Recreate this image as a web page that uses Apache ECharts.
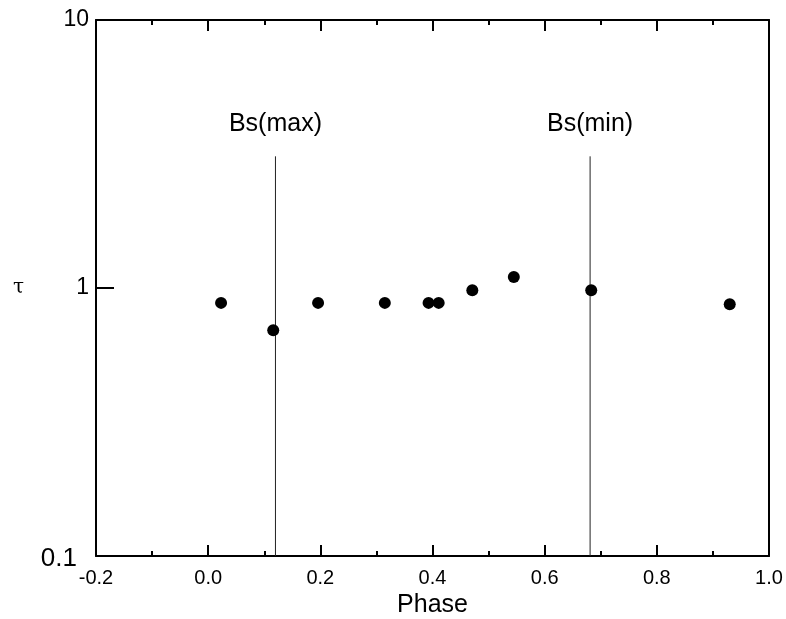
<!DOCTYPE html>
<html>
<head>
<meta charset="utf-8">
<script src="https://cdn.jsdelivr.net/npm/echarts@6/dist/echarts.min.js"></script>
<style>html,body{margin:0;padding:0;background:#fff;}#c{width:786px;height:619px;}</style>
</head>
<body>
<div id="c"></div>
<script>
const phase = [0.023, 0.116, 0.196, 0.315, 0.393, 0.411, 0.471, 0.545, 0.683, 0.930];
const tau   = [0.88, 0.695, 0.88, 0.88, 0.88, 0.88, 0.98, 1.10, 0.98, 0.87];
const markerNames = ['Bs(max)', 'Bs(min)'];
const markerPhase = [0.12, 0.681];
const markerLineBottom = 0.1;
const markerLineTop = 3.1;
const markerLabelTau = 4.1;
const xTicks = [-0.2, 0.0, 0.2, 0.4, 0.6, 0.8, 1.0];
const yTicks = [0.1, 1, 10];

const font = 'Liberation Sans, Arial, sans-serif';
const chart = echarts.init(document.getElementById('c'));

const lineSeries = markerPhase.map((p, i) => ({
  type: 'line',
  name: markerNames[i],
  data: [[p, markerLineBottom], [p, markerLineTop]],
  symbol: 'none',
  lineStyle: { color: '#222', width: 1 },
  silent: true,
  z: 1
}));

chart.setOption({
  animation: false,
  backgroundColor: '#fff',
  grid: { left: 96, right: 17, top: 20, bottom: 63, outerBoundsMode: 'none', containLabel: false },
  xAxis: [{
    type: 'value', min: xTicks[0], max: xTicks[xTicks.length - 1], interval: 0.2,
    name: 'Phase', nameLocation: 'middle', nameGap: 37,
    nameTextStyle: { fontFamily: font, fontSize: 25, color: '#000' },
    axisLine: { onZero: false, lineStyle: { color: '#000', width: 2 } },
    axisTick: { inside: true, length: 11, lineStyle: { color: '#000', width: 2 } },
    minorTick: { show: true, splitNumber: 2, length: 5, lineStyle: { color: '#000', width: 2 } },
    axisLabel: { fontFamily: font, fontSize: 20, color: '#000', margin: 12, formatter: v => v.toFixed(1) },
    splitLine: { show: false }
  }, {
    type: 'value', position: 'top', min: xTicks[0], max: xTicks[xTicks.length - 1], interval: 0.2,
    axisLine: { show: true, onZero: false, lineStyle: { color: '#000', width: 2 } },
    axisTick: { inside: true, length: 11, lineStyle: { color: '#000', width: 2 } },
    minorTick: { show: true, splitNumber: 2, length: 5, lineStyle: { color: '#000', width: 2 } },
    axisLabel: { show: false },
    splitLine: { show: false }
  }],
  yAxis: [{
    type: 'log', logBase: 10, min: yTicks[0], max: yTicks[yTicks.length - 1],
    name: 'τ', nameLocation: 'middle', nameGap: 72, nameRotate: 0,
    nameTextStyle: { fontFamily: 'DejaVu Serif, serif', fontSize: 20, color: '#000' },
    axisLine: { onZero: false, lineStyle: { color: '#000', width: 2 } },
    axisTick: { inside: true, length: 18, lineStyle: { color: '#000', width: 2 } },
    minorTick: { show: false },
    axisLabel: {
      fontFamily: font, fontSize: 23, color: '#000', margin: 7,
      formatter: v => (v < 0.5 ? '{s|' + v + '}' : String(v)),
      rich: { s: { fontFamily: font, fontSize: 26, color: '#000', padding: [6, 12, 0, 0] } }
    },
    splitLine: { show: false }
  }, {
    type: 'log', logBase: 10, min: yTicks[0], max: yTicks[yTicks.length - 1], position: 'right',
    axisLine: { show: true, onZero: false, lineStyle: { color: '#000', width: 2 } },
    axisTick: { show: false }, axisLabel: { show: false }, splitLine: { show: false }
  }],
  series: [
    ...lineSeries,
    {
      type: 'scatter',
      data: markerPhase.map((p, i) => ({ value: [p, markerLabelTau], name: markerNames[i] })),
      symbolSize: 1,
      itemStyle: { color: 'rgba(0,0,0,0)', opacity: 1 },
      label: { show: true, position: 'inside', formatter: p => p.name, fontFamily: font, fontSize: 25, color: '#000', opacity: 1 },
      silent: true
    },
    {
      type: 'scatter',
      data: phase.map((p, i) => [p, tau[i]]),
      symbol: 'circle',
      symbolSize: 12,
      itemStyle: { color: '#000', opacity: 1 },
      z: 5
    }
  ]
});
</script>
</body>
</html>
